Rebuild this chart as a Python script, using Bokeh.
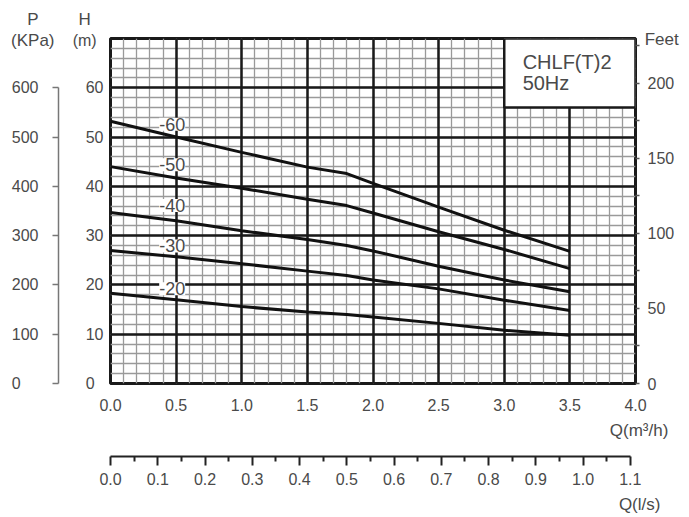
from bokeh.plotting import figure
from bokeh.models import (LinearAxis, Range1d, Grid, SingleIntervalTicker, FixedTicker,
                          PrintfTickFormatter, Label)
from bokeh.embed import file_html
from bokeh.resources import INLINE

# ---- data ----
q_m3h = [0.0, 0.5, 1.0, 1.5, 1.8, 2.0, 2.5, 3.0, 3.5]
head_60 = [53.2, 50.0, 46.9, 43.9, 42.6, 40.6, 35.8, 31.1, 26.8]
head_50 = [44.0, 41.7, 39.6, 37.4, 36.1, 34.6, 30.8, 27.2, 23.3]
head_40 = [34.7, 33.0, 31.0, 29.2, 28.0, 26.9, 23.8, 21.0, 18.6]
head_30 = [27.0, 25.7, 24.3, 22.8, 21.9, 21.0, 19.2, 16.9, 14.8]
head_20 = [18.3, 17.0, 15.6, 14.5, 14.0, 13.5, 12.2, 10.8, 9.8]
curve_names = ["-60", "-50", "-40", "-30", "-20"]
h_ticks = [0, 10, 20, 30, 40, 50, 60]
p_ticks = [0, 100, 200, 300, 400, 500, 600]
ft_ticks = [0, 50, 100, 150, 200]
ft_minor = [25, 75, 125, 175, 225]
ls_ticks = [0.0, 0.1, 0.2, 0.3, 0.4, 0.5, 0.6, 0.7, 0.8, 0.9, 1.0, 1.1]
ls_minor = [0.05, 0.15, 0.25, 0.35, 0.45, 0.55, 0.65, 0.75, 0.85, 0.95, 1.05]
model_text = ["CHLF(T)2", "50Hz"]

# ---- layout helpers (positions) ----
label_pos = [(0.47, 52.6), (0.47, 44.4), (0.47, 36.1), (0.47, 27.9), (0.47, 19.2)]
box = dict(left=3.0, right=4.0, bottom=56, top=70)

FONT = "Liberation Sans"
TXT = "#4a4a4a"
DARK = "#1a1a1a"
FS = "\u2007"

p = figure(width=689, height=517, x_range=Range1d(0, 4), y_range=Range1d(0, 70),
           x_axis_type=None, y_axis_type=None, toolbar_location=None,
           output_backend="svg",
           min_border_left=110, min_border_right=52, min_border_top=38,
           min_border_bottom=134)
p.extra_x_ranges = {"ls": Range1d(0, 4 / 3.6)}
p.extra_y_ranges = {"P": Range1d(0, 700), "ft": Range1d(0, 70 * 3.28084)}
p.outline_line_color = DARK
p.outline_line_width = 3
p.background_fill_color = "white"
p.border_fill_color = "white"


def style(ax):
    ax.major_label_text_font = FONT
    ax.major_label_text_font_size = "16px"
    ax.major_label_text_color = TXT
    ax.major_tick_in = 0
    ax.minor_tick_in = 0


def side_label(text, x, y, side, align="center", size="17px"):
    # labels in a side panel are not clipped to the frame
    p.add_layout(Label(x=x, y=y, text=text, text_align=align, text_baseline="middle",
                       text_font=FONT, text_font_size=size, text_color=TXT), side)


hax = LinearAxis(ticker=FixedTicker(ticks=h_ticks), axis_line_color=None,
                 major_tick_out=0, minor_tick_out=0, major_label_standoff=7,
                 major_label_overrides={0: "0" + FS})
style(hax)
p.add_layout(hax, "left")
side_label("(m)", -0.197, 69.5, "left", size="16px")

pax = LinearAxis(y_range_name="P", ticker=FixedTicker(ticks=p_ticks), bounds=(0, 600),
                 axis_line_color="#777777", axis_line_width=1.5,
                 major_tick_line_color="#777777", major_tick_line_width=1.5,
                 major_tick_out=6, minor_tick_out=0, major_label_standoff=14,
                 major_label_overrides={0: "0" + FS + FS})
style(pax)
p.add_layout(pax, "left")

qax = LinearAxis(ticker=SingleIntervalTicker(interval=0.5, num_minor_ticks=0),
                 formatter=PrintfTickFormatter(format="%.1f"), axis_line_color=None,
                 major_tick_out=0, minor_tick_out=0, major_label_standoff=15,
                 axis_label=" ", axis_label_text_font_size="1px", axis_label_standoff=1)
style(qax)
p.add_layout(qax, "below")
side_label("Q(m³/h)", 4.25, -9.5, "below", "right")
side_label("Q(l/s)", 4.19, -24.5, "below", "right")

lax = LinearAxis(x_range_name="ls", ticker=FixedTicker(ticks=ls_ticks, minor_ticks=ls_minor),
                 formatter=PrintfTickFormatter(format="%.1f"), bounds=(0, 1.1),
                 axis_line_color="#222222", axis_line_width=2,
                 major_tick_line_color="#222222", minor_tick_line_color="#222222",
                 major_tick_line_width=2, minor_tick_line_width=2,
                 major_tick_out=9, minor_tick_out=5, major_label_standoff=7)
style(lax)
p.add_layout(lax, "below")
side_label("P", -0.592, 73.8, "below")

fax = LinearAxis(y_range_name="ft", ticker=FixedTicker(ticks=ft_ticks, minor_ticks=ft_minor),
                 axis_line_color=None, major_tick_out=4, minor_tick_out=4,
                 major_tick_line_color="#555555", minor_tick_line_color="#555555",
                 major_tick_line_width=1.5, minor_tick_line_width=1.5,
                 major_label_standoff=8)
style(fax)
p.add_layout(fax, "right")
side_label("H", -0.197, 73.8, "right")

side_label("(KPa)", -0.592, 69.5, "above")
side_label("Feet", 4.07, 69.8, "above", "left")

# grids: minor first, then major
for dim, iv in ((0, 0.5), (1, 10)):
    g = Grid(dimension=dim, ticker=SingleIntervalTicker(interval=iv, num_minor_ticks=5),
             grid_line_color=None, minor_grid_line_color="#9a9a9a",
             minor_grid_line_width=1.3)
    p.add_layout(g)
for dim, iv in ((0, 0.5), (1, 10)):
    g = Grid(dimension=dim, ticker=SingleIntervalTicker(interval=iv, num_minor_ticks=0),
             grid_line_color=DARK, grid_line_width=2.5)
    p.add_layout(g)

for heads in (head_60, head_50, head_40, head_30, head_20):
    p.line(q_m3h, heads, line_width=3, line_color="#111111")

p.quad(left=[box["left"]], right=[box["right"]], bottom=[box["bottom"]], top=[box["top"]],
       fill_color="white", line_color=DARK, line_width=2.5)

for name, (lx, ly) in zip(curve_names, label_pos):
    p.add_layout(Label(x=lx, y=ly, text=name, text_align="center", text_baseline="middle",
                       text_font=FONT, text_font_size="18px", text_color=TXT,
                       background_fill_color="white"))

for txt, ly in zip(model_text, (65.3, 60.9)):
    p.add_layout(Label(x=3.14, y=ly, text=txt, text_align="left", text_baseline="middle",
                       text_font=FONT, text_font_size="20px", text_color=TXT))

open("out.html", "w").write(file_html(p, INLINE))
